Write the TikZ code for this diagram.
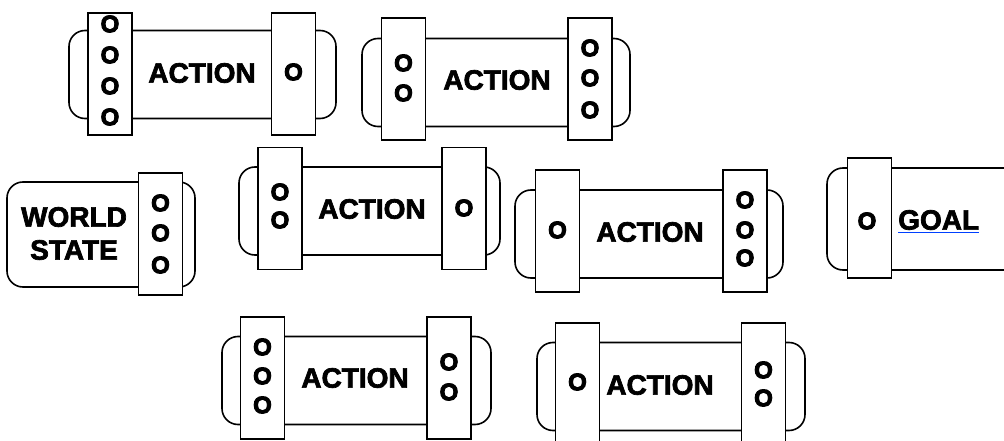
\documentclass[tikz,border=0pt]{standalone}
\usepackage{fontspec}
\setmainfont{Liberation Sans}
\newfontfamily\heavyfont{Liberation Sans}[FakeBold=2.5]
\newfontfamily\portfont{Liberation Sans}[FakeBold=4]
\usetikzlibrary{positioning}

\begin{document}
\begin{tikzpicture}[x=1pt,y=-1pt,
    body/.style={draw,line width=1.6pt,rounded corners=16pt,minimum height=88pt,inner sep=0pt},
    bar/.style={draw,line width=1.6pt,fill=white,minimum width=44pt,minimum height=122pt,inner sep=0pt},
    word/.style={font=\fontsize{28}{33}\selectfont\heavyfont\bfseries,inner sep=0pt,align=center},
    port/.style={font=\fontsize{24}{24}\selectfont\portfont\bfseries,inner sep=0pt}]
  \clip (0,0) rectangle (1004,441);

  % action blocks, top row
  \node[body,minimum width=267pt] (act1) at (202.5,74.5) {};
  \node[bar] (act1in) at (110,74) {};
  \node[bar] (act1out) at (293.5,74) {};
  \node[word] (act1txt) at (202,73) {ACTION};
  \foreach \y [count=\i] in {24,55,86,117}
    \node[port] (act1in\i) at (110,\y) {O};
  \node[port] (act1out1) at (293.5,72) {O};

  \node[body,minimum width=268pt] (act2) at (496,82.5) {};
  \node[bar] (act2in) at (403.5,79) {};
  \node[bar] (act2out) at (590,79) {};
  \node[word] (act2txt) at (497,80) {ACTION};
  \foreach \y [count=\i] in {63,93}
    \node[port] (act2in\i) at (403.5,\y) {O};
  \foreach \y [count=\i] in {48,78,110}
    \node[port] (act2out\i) at (590,\y) {O};

  % world state
  \node[body,minimum width=188pt,minimum height=105pt] (world) at (101,234.5) {};
  \node[bar] (worldout) at (160.5,234) {};
  \node[word] (worldtxt) at (74,233.5) {WORLD\\STATE};
  \foreach \y [count=\i] in {203,233,265}
    \node[port] (worldout\i) at (160.5,\y) {O};

  % action blocks, middle row
  \node[body,minimum width=261pt] (act3) at (369.5,211) {};
  \node[bar] (act3in) at (280,208.5) {};
  \node[bar] (act3out) at (464,208.5) {};
  \node[word] (act3txt) at (372,209) {ACTION};
  \foreach \y [count=\i] in {192,220}
    \node[port] (act3in\i) at (280,\y) {O};
  \node[port] (act3out1) at (464,208) {O};

  \node[body,minimum width=268pt] (act4) at (649,234) {};
  \node[bar] (act4in) at (557.5,231) {};
  \node[bar] (act4out) at (745,231) {};
  \node[word] (act4txt) at (650,232) {ACTION};
  \node[port] (act4in1) at (557.5,230) {O};
  \foreach \y [count=\i] in {200,230,258}
    \node[port] (act4out\i) at (745,\y) {O};

  % goal
  \node[body,minimum width=233pt,minimum height=102pt] (goal) at (943.5,219) {};
  \node[bar,minimum height=120pt] (goalin) at (869.5,218) {};
  \node[port] (goalin1) at (867,221) {O};
  \node[word,anchor=west] (goaltxt) at (898,220) {GOAL};
  \draw[line width=0.8pt,blue!75!cyan] ([yshift=-2pt]goaltxt.south west) -- ([yshift=-2pt]goaltxt.south east);

  % action blocks, bottom row
  \node[body,minimum width=269pt] (act5) at (356.5,380.5) {};
  \node[bar] (act5in) at (262.5,378) {};
  \node[bar] (act5out) at (449,378) {};
  \node[word] (act5txt) at (355,378) {ACTION};
  \foreach \y [count=\i] in {347,376,405}
    \node[port] (act5in\i) at (262.5,\y) {O};
  \foreach \y [count=\i] in {362,392}
    \node[port] (act5out\i) at (449,\y) {O};

  \node[body,minimum width=268pt] (act6) at (671,386.5) {};
  \node[bar] (act6in) at (577.5,384) {};
  \node[bar] (act6out) at (763.5,384) {};
  \node[word] (act6txt) at (660,385) {ACTION};
  \node[port] (act6in1) at (577.5,382) {O};
  \foreach \y [count=\i] in {370,398}
    \node[port] (act6out\i) at (763.5,\y) {O};
\end{tikzpicture}
\end{document}
